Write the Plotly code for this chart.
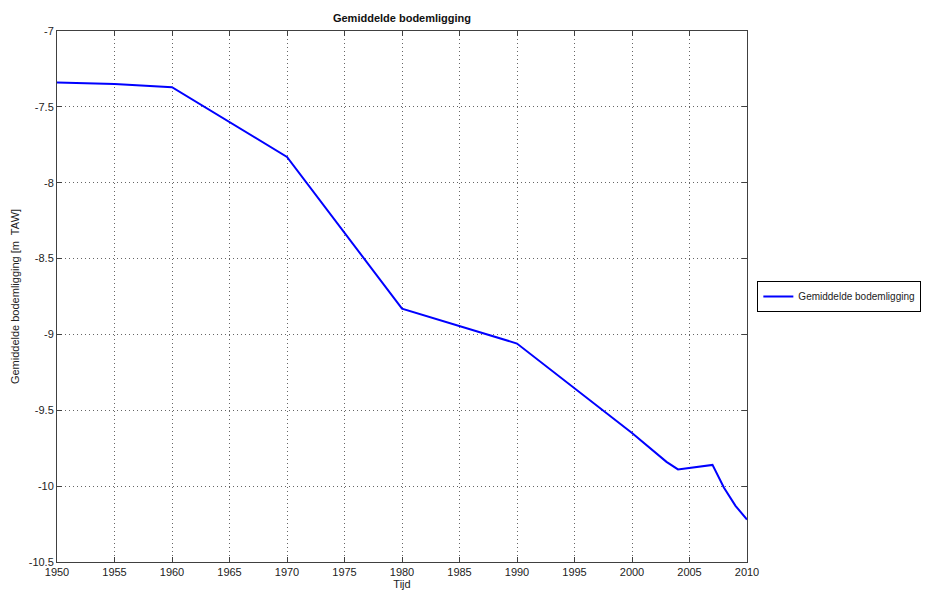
import plotly.graph_objects as go

# jaartallen en gemiddelde bodemligging (m TAW)
jaren = [1950, 1955, 1960, 1970, 1980, 1990, 2000, 2003, 2004, 2007, 2008, 2009, 2010]
bodem = [-7.34, -7.35, -7.37, -7.83, -8.83, -9.06, -9.65, -9.84, -9.89, -9.86, -10.01, -10.13, -10.22]

x_ticks = list(range(1950, 2011, 5))
y_ticks = [-7, -7.5, -8, -8.5, -9, -9.5, -10, -10.5]

fig = go.Figure()
fig.add_trace(go.Scatter(
    x=jaren, y=bodem, mode="lines",
    line=dict(color="#0000ff", width=2),
    name="Gemiddelde bodemligging"
))

as_stijl = dict(
    showline=True, linecolor="#404040", linewidth=1, mirror="ticks",
    ticks="inside", ticklen=5, tickcolor="#404040",
    showgrid=True, gridcolor="#666666", griddash="1px,3px", gridwidth=1,
    zeroline=False, tickfont=dict(size=11, color="#222222"),
    automargin=False,
)

fig.update_xaxes(range=[1950, 2010], tickvals=x_ticks,
                 title=dict(text="Tijd", font=dict(size=11, color="#222222"), standoff=0),
                 **as_stijl)
fig.update_yaxes(range=[-10.5, -7], tickvals=y_ticks,
                 ticktext=[str(v) for v in y_ticks],
                 title=dict(text="Gemiddelde bodemligging [m  TAW]", font=dict(size=11, color="#222222"), standoff=6),
                 **as_stijl)

# de pagina heeft 8px body-marge, daarom is de figuur iets kleiner
fig.update_layout(
    width=925, height=582,
    margin=dict(l=49, r=186, t=23, b=28, autoexpand=False),
    plot_bgcolor="white", paper_bgcolor="white",
    font=dict(family="Liberation Sans, Arial, sans-serif", size=11, color="#222222"),
    title=dict(text="<b>Gemiddelde bodemligging</b>", x=0.5, xanchor="center",
               xref="paper", y=0.99, yanchor="top", font=dict(size=11, color="#111111")),
    showlegend=True,
    legend=dict(x=1.015, y=0.5, xanchor="left", yanchor="middle",
                bordercolor="#000000", borderwidth=1, bgcolor="white",
                font=dict(size=10), itemwidth=30),
)

fig.write_html("out.html")
